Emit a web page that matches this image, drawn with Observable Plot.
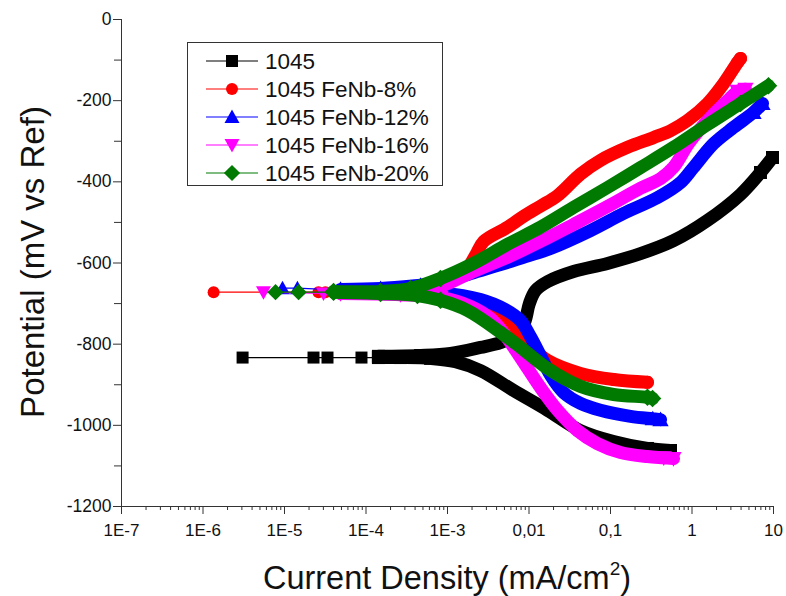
<!DOCTYPE html>
<html><head><meta charset="utf-8">
<script src="https://cdn.jsdelivr.net/npm/d3@7"></script>
<script src="https://cdn.jsdelivr.net/npm/@observablehq/plot@0.6"></script>
<style>
body{margin:0;background:#fff;}
#chart{position:relative;width:786px;height:596px;}
</style>
</head><body><div id="chart"></div>
<script>
// ---- series meta ----
const seriesNames = ["1045", "1045 FeNb-8%", "1045 FeNb-12%", "1045 FeNb-16%", "1045 FeNb-20%"];
const seriesColors = ["#000000", "#ff0000", "#0000ff", "#ff00ff", "#007a00"];
const seriesSymbols = ["square", "circle", "triUp", "triDown", "diamond"];

// ---- axis ticks ----
const xTickValues = [1e-7, 1e-6, 1e-5, 1e-4, 1e-3, 1e-2, 1e-1, 1, 10];
const xTickLabels = ["1E-7", "1E-6", "1E-5", "1E-4", "1E-3", "0,01", "0,1", "1", "10"];
const yTickValues = [0, -200, -400, -600, -800, -1000, -1200];
const yTickLabels = ["0", "-200", "-400", "-600", "-800", "-1000", "-1200"];
const yMinorTicks = [-100, -300, -500, -700, -900, -1100];

// ---- data: [current density (mA/cm2), potential (mV)] ----
// 1045
const s1045Sparse = [[3.06e-6,-833],[2.27e-5,-833],[3.37e-5,-833],[8.8e-5,-833]];
const s1045Cathodic = [[1.42e-4,-833],[2.65e-4,-833],[6.2e-4,-835],[1.25e-3,-843],[2.54e-3,-865],[6.45e-3,-914],[1.69e-2,-963],[4.28e-2,-1013],[0.109,-1040],[0.284,-1057],[0.545,-1062]];
const s1045Anodic = [[1.42e-4,-830],[4.67e-4,-828],[1.09e-3,-823],[2.54e-3,-808],[4.47e-3,-796],[6.83e-3,-779],[8.8e-3,-747],[1.01e-2,-700],[1.2e-2,-668],[1.69e-2,-646],[3.52e-2,-621],[9.19e-2,-601],[0.233,-577],[0.593,-545],[1.55,-495],[3.94,-431],[6.92,-377],[9.72,-340]];
// 1045 FeNb-8%
const s8Sparse = [[1.35e-6,-672],[2.61e-5,-672],[3.18e-5,-672]];
const s8Cathodic = [[5.6e-5,-672],[2.65e-4,-675],[8.2e-4,-683],[1.92e-3,-705],[3.88e-3,-734],[6.45e-3,-766],[1.04e-2,-806],[1.69e-2,-840],[4.28e-2,-872],[0.109,-887],[0.284,-894]];
const s8Anodic = [[5.6e-5,-670],[2.65e-4,-665],[8.2e-4,-646],[1.66e-3,-618],[2.21e-3,-581],[2.77e-3,-547],[5.45e-3,-512],[8.6e-3,-485],[1.38e-2,-460],[2.24e-2,-434],[4.28e-2,-381],[7.54e-2,-347],[0.162,-315],[0.337,-291],[0.545,-274],[0.88,-249],[1.55,-207],[2.44,-158],[3.62,-106],[3.94,-96]];
// 1045 FeNb-12%
const s12Sparse = [[9.45e-6,-662],[1.44e-5,-662]];
const s12Cathodic = [[4.87e-5,-667],[2.65e-4,-670],[8.2e-4,-673],[2.54e-3,-690],[5.15e-3,-715],[7.87e-3,-742],[1.04e-2,-781],[1.38e-2,-828],[1.84e-2,-877],[2.65e-2,-919],[4.28e-2,-946],[7.54e-2,-963],[0.176,-978],[0.33,-984],[0.411,-986]];
const s12Anodic = [[4.87e-5,-665],[1.51e-4,-663],[4.67e-4,-655],[8.2e-4,-650],[1.92e-3,-626],[4.47e-3,-604],[9.06e-3,-584],[1.84e-2,-564],[5.68e-2,-520],[0.144,-478],[0.377,-439],[0.722,-402],[1.04,-365],[1.84,-306],[3.23,-266],[5.68,-229],[7.33,-207]];
// 1045 FeNb-16%
const s16Sparse = [[5.52e-6,-672],[3.01e-5,-675]];
const s16Cathodic = [[4.87e-5,-675],[2.65e-4,-678],[8.2e-4,-685],[1.92e-3,-707],[3.37e-3,-737],[5.15e-3,-779],[7.87e-3,-833],[1.38e-2,-907],[2.24e-2,-963],[3.94e-2,-1013],[6.92e-2,-1045],[0.133,-1067],[0.284,-1077],[0.45,-1080],[0.593,-1082]];
const s16Anodic = [[4.87e-5,-675],[1.51e-4,-673],[4.67e-4,-668],[8.2e-4,-658],[2.08e-3,-621],[5.45e-3,-586],[1.38e-2,-547],[3.52e-2,-505],[9.19e-2,-461],[0.233,-416],[0.411,-392],[0.593,-364],[0.919,-304],[1.69,-241],[2.73,-200],[3.62,-177],[4.53,-172]];
// 1045 FeNb-20%
const s20Sparse = [[7.76e-6,-672],[1.49e-5,-672]];
const s20Cathodic = [[4.0e-5,-672],[1.51e-4,-675],[4.28e-4,-680],[8.2e-4,-692],[1.76e-3,-717],[4.47e-3,-771],[7.87e-3,-808],[1.69e-2,-860],[4.28e-2,-904],[0.109,-924],[0.284,-931],[0.328,-934]];
const s20Anodic = [[4.0e-5,-670],[1.51e-4,-670],[3.52e-4,-663],[8.2e-4,-638],[2.08e-3,-601],[5.45e-3,-554],[1.38e-2,-512],[3.52e-2,-463],[9.19e-2,-414],[0.233,-365],[0.593,-315],[1.55,-259],[3.94,-207],[8.68,-163]];

const seriesSparse = [s1045Sparse, s8Sparse, s12Sparse, s16Sparse, s20Sparse];
const seriesCathodic = [s1045Cathodic, s8Cathodic, s12Cathodic, s16Cathodic, s20Cathodic];
const seriesAnodic = [s1045Anodic, s8Anodic, s12Anodic, s16Anodic, s20Anodic];

// ---- symbols ----
function rr(s){return Math.sqrt(s/Math.PI);}
const symbolDefs = {
  square: {draw(c,s){const r=rr(s); c.moveTo(-r,-r); c.lineTo(r,-r); c.lineTo(r,r); c.lineTo(-r,r); c.closePath();}},
  circle: {draw(c,s){const r=rr(s); c.moveTo(r,0); c.arc(0,0,r,0,2*Math.PI);}},
  triUp: {draw(c,s){const r=rr(s); c.moveTo(0,-1.25*r); c.lineTo(1.25*r,r); c.lineTo(-1.25*r,r); c.closePath();}},
  triDown: {draw(c,s){const r=rr(s); c.moveTo(0,1.25*r); c.lineTo(1.25*r,-r); c.lineTo(-1.25*r,-r); c.closePath();}},
  diamond: {draw(c,s){const r=rr(s)*1.35; c.moveTo(0,-r); c.lineTo(r,0); c.lineTo(0,r); c.lineTo(-r,0); c.closePath();}}
};

const X = d => d[0], Y = d => d[1];
const marks = [];
const minorX = [];
for (let e = -7; e <= 0; e++) for (let k = 2; k <= 9; k++) minorX.push(k * Math.pow(10, e));

marks.push(
  Plot.axisX(minorX, {tickSize: 4, tickFormat: () => "", label: null, stroke: "#333"}),
  Plot.axisX(xTickValues, {tickSize: 8, tickPadding: 9, fontSize: 17, label: null, stroke: "#333", fill: "#111",
    tickFormat: d => xTickLabels[xTickValues.findIndex(v => Math.abs(v - d) / v < 1e-6)]}),
  Plot.axisY(yMinorTicks, {tickSize: 7, tickFormat: () => "", label: null, stroke: "#333"}),
  Plot.axisY(yTickValues, {tickSize: 8, tickPadding: 2, fontSize: 17.5, label: null, stroke: "#333", fill: "#111",
    tickFormat: d => yTickLabels[yTickValues.indexOf(d)]}),
  Plot.ruleX([1e-7], {stroke: "#333"}),
  Plot.ruleY([-1200], {stroke: "#333"})
);

// markers are visible where points are sparse: near Ecorr and at the branch ends
const markerPoints = (branch) => branch.filter((d, j) => d[0] < 1e-3 || j >= branch.length - 2);

seriesNames.forEach((name, i) => {
  const col = seriesColors[i], sym = symbolDefs[seriesSymbols[i]];
  const thin = [...seriesSparse[i], seriesCathodic[i][0]];
  marks.push(
    Plot.line(thin, {x: X, y: Y, stroke: col, strokeWidth: 1.2}),
    Plot.line(seriesCathodic[i], {x: X, y: Y, stroke: col, strokeWidth: 13, curve: "catmull-rom", strokeLinejoin: "round"}),
    Plot.line(seriesAnodic[i], {x: X, y: Y, stroke: col, strokeWidth: 13, curve: "catmull-rom", strokeLinejoin: "round"}),
    Plot.dot(seriesSparse[i], {x: X, y: Y, r: 6, symbol: sym, fill: col, stroke: "none"}),
    Plot.dot([...markerPoints(seriesCathodic[i]), ...markerPoints(seriesAnodic[i])], {x: X, y: Y, r: 6.5, symbol: sym, fill: col, stroke: "none"})
  );
});

const plot = Plot.plot({
  width: 786, height: 596,
  marginLeft: 121, marginRight: 13, marginTop: 19, marginBottom: 90,
  x: {type: "log", domain: [1e-7, 10]},
  y: {domain: [-1200, 0]},
  style: {fontFamily: "'Liberation Sans', Arimo, Arial, sans-serif", background: "white", color: "#111"},
  marks
});
document.getElementById("chart").appendChild(plot);

// ---- axis titles & legend ----
const svg = d3.select(plot);
const font = "'Liberation Sans', Arimo, Arial, sans-serif";
const xt = svg.append("text").attr("x", 447).attr("y", 589).attr("text-anchor", "middle")
  .attr("font-family", font).attr("font-size", 32.5).attr("fill", "#111");
xt.append("tspan").text("Current Density (mA/cm");
xt.append("tspan").attr("dy", -14).attr("font-size", 19).text("2");
xt.append("tspan").attr("dy", 14).text(")");
svg.append("text").attr("transform", "translate(44,262) rotate(-90)").attr("text-anchor", "middle")
  .attr("font-family", font).attr("font-size", 33).attr("fill", "#111").text("Potential (mV vs Ref)");

const lg = svg.append("g");
lg.append("rect").attr("x", 187.5).attr("y", 42.5).attr("width", 255).attr("height", 143)
  .attr("fill", "white").attr("stroke", "#333").attr("stroke-width", 1);
seriesNames.forEach((name, i) => {
  const y = 61 + 28 * i;
  lg.append("line").attr("x1", 206).attr("x2", 258).attr("y1", y).attr("y2", y)
    .attr("stroke", seriesColors[i]).attr("stroke-width", 1.2);
  const p = d3.path();
  symbolDefs[seriesSymbols[i]].draw(p, 36 * Math.PI);
  lg.append("path").attr("d", p.toString()).attr("transform", `translate(232,${y})`).attr("fill", seriesColors[i]);
  lg.append("text").attr("x", 265).attr("y", y).attr("dy", "0.36em").attr("text-anchor", "start")
    .attr("font-family", font).attr("font-size", 22.5).attr("fill", "#111").text(name);
});
</script>
</body></html>
